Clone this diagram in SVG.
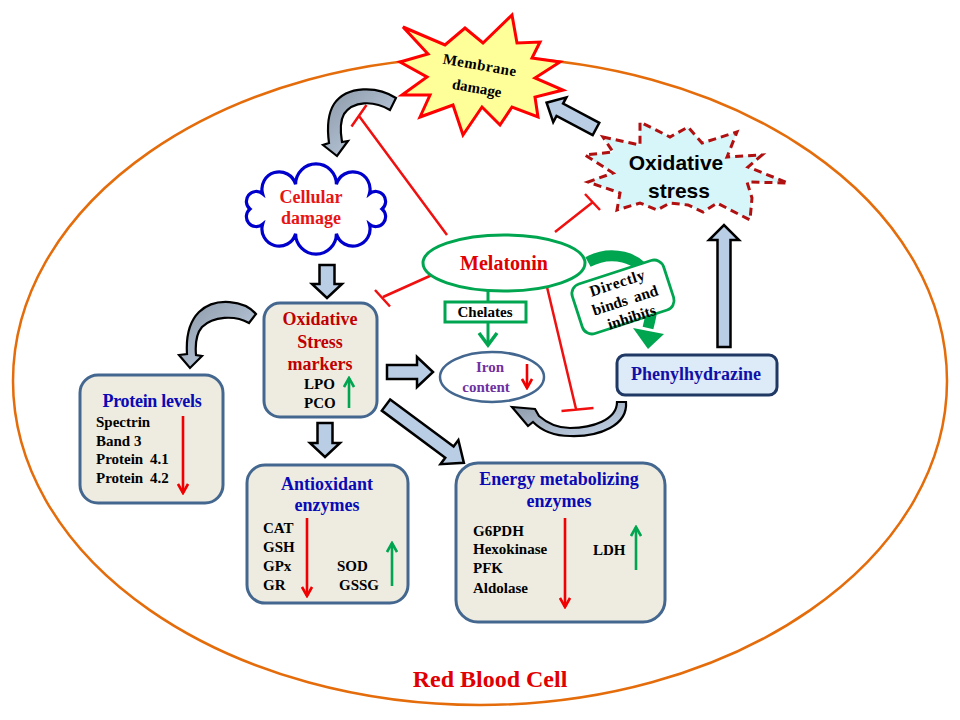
<svg xmlns="http://www.w3.org/2000/svg" width="960" height="720" viewBox="0 0 960 720">
<defs>
<style>
.ser{font-family:"Liberation Serif","Times New Roman",serif;font-weight:bold}
.box{fill:#EEECE1;stroke:#44678F;stroke-width:3}
.blk{fill:#B9CDE5;stroke:#000;stroke-width:2.5;stroke-linejoin:miter}
.crv{fill:url(#cg);stroke:#000;stroke-width:2.2}
.inh{stroke:#F01010;stroke-width:2.5;fill:none}
.item{font-size:15px;fill:#000}
.ttl{font-size:18px;fill:#0A0AB4}
.rdn{stroke:#F00000;stroke-width:2.6;fill:none;marker-end:url(#mr)}
.gup{stroke:#00A550;stroke-width:2.6;fill:none;marker-end:url(#mg)}
</style>
<linearGradient id="cg" x1="0" y1="0" x2="1" y2="1">
<stop offset="0" stop-color="#8A97A6"/>
<stop offset="1" stop-color="#C6D6EA"/>
</linearGradient>
<marker id="mr" viewBox="0 0 12 12" refX="10" refY="6" markerWidth="12" markerHeight="12" markerUnits="userSpaceOnUse" orient="auto">
<path d="M1,1 L10,6 L1,11" fill="none" stroke="#F00000" stroke-width="2.6"/>
</marker>
<marker id="mg" viewBox="0 0 12 12" refX="10" refY="6" markerWidth="12" markerHeight="12" markerUnits="userSpaceOnUse" orient="auto">
<path d="M1,1 L10,6 L1,11" fill="none" stroke="#00A550" stroke-width="2.6"/>
</marker>
</defs>
<rect width="960" height="720" fill="#fff"/>

<g id="rbc">
<ellipse cx="480" cy="381" rx="467" ry="324" fill="none" stroke="#E46C0A" stroke-width="2.5"/>
<text class="ser" x="490" y="687" font-size="24" fill="#E00000" text-anchor="middle">Red Blood Cell</text>
</g>

<g id="connectors">
<!-- inhibition lines -->
<path class="inh" d="M447,235 L359,116 M351.5,126.5 L366.5,105"/>
<path class="inh" d="M555,232 L593,202 M585,194 L600,210"/>
<path class="inh" d="M432,275 L383,297 M375,290 L390,306.5"/>
<path class="inh" d="M547,287 L576,409 M561.5,411 L593.5,408"/>
<!-- green chelates -->
<path d="M488,291 V302" stroke="#00A550" stroke-width="3" fill="none"/>
<path d="M488,322 V344" stroke="#00A550" stroke-width="3" fill="none"/>
<path d="M479,333 L488,345 L497,333" stroke="#00A550" stroke-width="3.5" fill="none"/>
<!-- green curved arrow -->
<path d="M588,262 C610,250 640,255 650,280 C656,295 652,312 648,328" stroke="#00A550" stroke-width="11" fill="none"/>
<polygon points="633,328 664,334 648,349" fill="#00A550"/>
<!-- block arrows -->
<path class="blk" transform="translate(327,265) rotate(90)" d="M0,-7.5 H19 V-15 L33,0 L19,15 V7.5 H0 Z"/>
<path class="blk" transform="translate(325,423) rotate(90)" d="M0,-7.5 H20 V-15 L34,0 L20,15 V7.5 H0 Z"/>
<path class="blk" transform="translate(387,372)" d="M0,-7 H30 V-15 L46,0 L30,15 V7 H0 Z"/>
<path class="blk" transform="translate(386,405) rotate(36.6)" d="M0,-7 H79 V-15 L97,0 L79,15 V7 H0 Z"/>
<path class="blk" transform="translate(724,347) rotate(-90)" d="M0,-6.5 H107 V-15 L122,0 L107,15 V6.5 H0 Z"/>
<path class="blk" transform="translate(596,129) rotate(-152)" d="M0,-7 H41 V-14 L56,0 L41,14 V7 H0 Z"/>
<!-- curved arrows -->
<path class="crv" d="M396,98 C378,86 347,85 334,104 C327,115 327,128 329,143 L323,145 L337,156 L348,141 L342,142 C340,130 340,121 344,114 C353,101 373,100 390,110 Z"/>
<path class="crv" d="M256,314 C245,301 216,296 199,312 C189,322 186,338 187,354 L179,355 L190,368 L202,356 L196,355 C195,343 196,334 202,327 C213,316 235,315 249,323 Z"/>
<path class="crv" d="M626,402 C628,425 600,437 570,436 C553,436 541,430 533,422 L528,426 L512,407 L535,409 L539,416 C547,423 557,428 570,428 C592,428 617,420 617,402 Z"/>
</g>

<g id="membrane-damage">
<polygon points="403,27 445,45 465,28 483,43 512,15 517,43 540,42 532,58 560,62 535,78 563,90 535,97 538,117 512,107 500,125 482,107 463,135 453,105 420,117 430,95 402,95 427,77 400,62 428,54" fill="#FFFF99" stroke="#FF0000" stroke-width="3" stroke-linejoin="miter"/>
<text class="ser" font-size="15" fill="#000" text-anchor="middle" transform="translate(479,70) rotate(10)" letter-spacing="0.5">Membrane</text>
<text class="ser" font-size="15" fill="#000" text-anchor="middle" transform="translate(476,93) rotate(10)">damage</text>
</g>

<g id="oxidative-stress">
<polygon points="603,137 640,145 640,122 670,137 688,127 702,143 737,132 727,157 762,155 748,167 788,183 747,182 752,198 750,220 717,203 703,212 688,205 670,203 657,210 640,203 617,210 620,193 588,182 613,173 585,155 613,152" fill="#D6F6FA" stroke="#B01010" stroke-width="3" stroke-dasharray="8,5"/>
<text x="676" y="170" font-family="Liberation Sans, Arial, sans-serif" font-weight="bold" font-size="21" fill="#000" text-anchor="middle">Oxidative</text>
<text x="679" y="198" font-family="Liberation Sans, Arial, sans-serif" font-weight="bold" font-size="21" fill="#000" text-anchor="middle">stress</text>
</g>

<g id="cellular-damage">
<path d="M250,209 A1 1 0 0 1 262.6,193.7 A1 1 0 0 1 295.6,184.3 A1 1 0 0 1 336.4,184.3 A1 1 0 0 1 369.4,193.7 A1 1 0 0 1 382,209 A1 1 0 0 1 369.4,224.3 A1 1 0 0 1 336.4,233.7 A1 1 0 0 1 295.6,233.7 A1 1 0 0 1 262.6,224.3 A1 1 0 0 1 250,209 Z" fill="#fff" stroke="#0000CC" stroke-width="3.2"/>
<text class="ser" x="311" y="203" font-size="18" fill="#E81515" text-anchor="middle">Cellular</text>
<text class="ser" x="311" y="224" font-size="18" fill="#E81515" text-anchor="middle">damage</text>
</g>

<g id="melatonin">
<ellipse cx="504" cy="263" rx="81" ry="28" fill="#fff" stroke="#00A550" stroke-width="3"/>
<text class="ser" x="504" y="270" font-size="20" fill="#E00000" text-anchor="middle">Melatonin</text>
</g>

<g id="chelates">
<rect x="445" y="302" width="81" height="20" fill="#fff" stroke="#00A550" stroke-width="3"/>
<text class="ser" x="485" y="317" font-size="15" fill="#000" text-anchor="middle">Chelates</text>
</g>

<g id="iron-content">
<ellipse cx="492" cy="377" rx="52" ry="25" fill="#fff" stroke="#44678F" stroke-width="2.5"/>
<text class="ser" x="490" y="372" font-size="15" fill="#7030A0" text-anchor="middle">Iron</text>
<text class="ser" x="486" y="392" font-size="15" fill="#7030A0" text-anchor="middle">content</text>
<path class="rdn" d="M527,364 V388"/>
</g>

<g id="directly-binds">
<g transform="translate(623,297) rotate(-18)">
<rect x="-48" y="-26" width="96" height="52" rx="10" fill="#fff" stroke="#00A550" stroke-width="2.8"/>
<text class="ser" font-size="15.5" fill="#000" text-anchor="middle" x="-1" y="-10" letter-spacing="0.6">Directly</text>
<text class="ser" font-size="15.5" fill="#000" text-anchor="middle" x="1" y="9" word-spacing="3">binds and</text>
<text class="ser" font-size="15.5" fill="#000" text-anchor="middle" x="2" y="27">inhibits</text>
</g>
</g>

<g id="phenylhydrazine">
<rect x="617" y="355" width="160" height="40" rx="8" fill="#DCEBF7" stroke="#1F3864" stroke-width="3"/>
<text class="ser" x="696" y="380" font-size="18" fill="#1010A8" text-anchor="middle">Phenylhydrazine</text>
</g>

<g id="os-markers">
<rect class="box" x="264" y="303" width="113" height="114" rx="16"/>
<text class="ser" x="320" y="325" font-size="18" fill="#C00000" text-anchor="middle">Oxidative</text>
<text class="ser" x="320" y="348" font-size="18" fill="#C00000" text-anchor="middle">Stress</text>
<text class="ser" x="320" y="370" font-size="18" fill="#C00000" text-anchor="middle">markers</text>
<text class="ser item" x="304" y="389">LPO</text>
<text class="ser item" x="304" y="408">PCO</text>
<path class="gup" d="M349,408 V378"/>
</g>

<g id="protein-levels">
<rect class="box" x="80" y="375" width="143" height="128" rx="18"/>
<text class="ser ttl" x="152" y="407" text-anchor="middle" letter-spacing="-0.3">Protein levels</text>
<text class="ser item" x="96" y="427">Spectrin</text>
<text class="ser item" x="96" y="446">Band 3</text>
<text class="ser item" x="96" y="464" word-spacing="3">Protein 4.1</text>
<text class="ser item" x="96" y="483" word-spacing="3">Protein 4.2</text>
<path class="rdn" d="M183,416 V493"/>
</g>

<g id="antioxidant-enzymes">
<rect class="box" x="247" y="465" width="161" height="138" rx="18"/>
<text class="ser ttl" x="327" y="490" text-anchor="middle">Antioxidant</text>
<text class="ser ttl" x="327" y="511" text-anchor="middle">enzymes</text>
<text class="ser item" x="263" y="533">CAT</text>
<text class="ser item" x="263" y="552">GSH</text>
<text class="ser item" x="263" y="571">GPx</text>
<text class="ser item" x="263" y="590">GR</text>
<text class="ser item" x="337" y="571">SOD</text>
<text class="ser item" x="339" y="590">GSSG</text>
<path class="rdn" d="M307,518 V596"/>
<path class="gup" d="M392,586 V543"/>
</g>

<g id="energy-enzymes">
<rect class="box" x="456" y="463" width="209" height="159" rx="22"/>
<text class="ser ttl" x="559" y="485" text-anchor="middle">Energy metabolizing</text>
<text class="ser ttl" x="559" y="507" text-anchor="middle">enzymes</text>
<text class="ser item" x="473" y="536">G6PDH</text>
<text class="ser item" x="473" y="554">Hexokinase</text>
<text class="ser item" x="473" y="573">PFK</text>
<text class="ser item" x="473" y="593">Aldolase</text>
<text class="ser item" x="593" y="555">LDH</text>
<path class="rdn" d="M565,518 V607"/>
<path class="gup" d="M636,570 V527"/>
</g>
</svg>
